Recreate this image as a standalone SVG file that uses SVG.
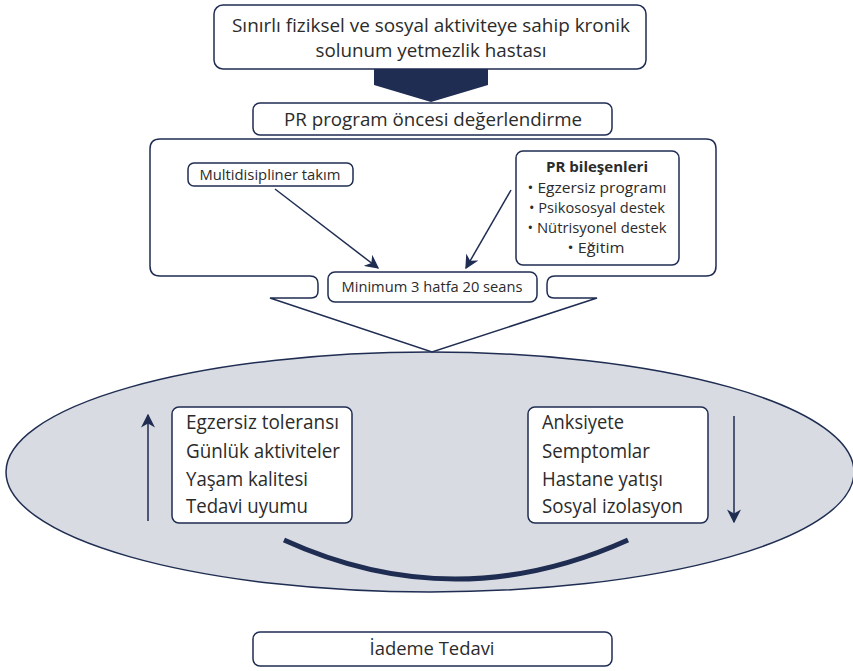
<svg xmlns="http://www.w3.org/2000/svg" width="853" height="671" viewBox="0 0 853 671">
<style>
.box{fill:#fff;stroke:#1f2d52;stroke-width:1.5}
.t{font-family:"Open Sans","Noto Sans",sans-serif;fill:#2b2b2b}
.ln{stroke:#1f2d52;stroke-width:1.5;fill:none}
</style>
<defs>
<marker id="ah2" viewBox="0 0 10 10" refX="9" refY="5" markerWidth="14" markerHeight="14" orient="auto" markerUnits="userSpaceOnUse">
<path d="M0,0 L10,5 L0,10 L3,5 Z" fill="#1f2d52"/>
</marker>
</defs>

<g id="ellipse">
<ellipse cx="430" cy="472" rx="424" ry="120" fill="#d9dbe3" stroke="#1f2d52" stroke-width="1.5"/>
</g>

<g id="top-box">
<rect class="box" x="214" y="5" width="432" height="64" rx="9"/>
<text class="t" x="431" y="32" font-size="18" text-anchor="middle" textLength="398" lengthAdjust="spacingAndGlyphs">Sınırlı fiziksel ve sosyal aktiviteye sahip kronik</text>
<text class="t" x="431" y="57" font-size="18" text-anchor="middle" textLength="231" lengthAdjust="spacingAndGlyphs">solunum yetmezlik hastası</text>
</g>

<g id="down-arrow">
<path d="M374,69 H488 V85 L431,102 L374,85 Z" fill="#1f2d52"/>
</g>

<g id="pr-box">
<rect class="box" x="253" y="103" width="359" height="32" rx="7"/>
<text class="t" x="433" y="126" font-size="18" text-anchor="middle" textLength="298" lengthAdjust="spacingAndGlyphs">PR program öncesi değerlendirme</text>
</g>

<g id="program-frame">
<path class="box" d="M160,139 H706 Q716,139 716,149 V266 Q716,276 706,276 H555 Q547,276 547,284 V291 Q547,298 554,298 H597 L432,352 L270,298 H311 Q318,298 318,291 V284 Q318,276 310,276 H160 Q150,276 150,266 V149 Q150,139 160,139 Z"/>
</g>

<g id="multidisipliner">
<rect class="box" x="188" y="163" width="165" height="23" rx="6"/>
<text class="t" x="270" y="180" font-size="14" text-anchor="middle" textLength="141" lengthAdjust="spacingAndGlyphs">Multidisipliner takım</text>
</g>

<g id="pr-bilesenleri">
<rect class="box" x="516" y="151" width="163" height="114" rx="7"/>
<text class="t" x="597" y="172" font-size="14.5" font-weight="bold" text-anchor="middle" textLength="102" lengthAdjust="spacingAndGlyphs">PR bileşenleri</text>
<text class="t" x="597" y="193" font-size="14" text-anchor="middle" textLength="139" lengthAdjust="spacingAndGlyphs">• Egzersiz programı</text>
<text class="t" x="597" y="213" font-size="14" text-anchor="middle" textLength="136" lengthAdjust="spacingAndGlyphs">• Psikososyal destek</text>
<text class="t" x="597" y="233" font-size="14" text-anchor="middle" textLength="139" lengthAdjust="spacingAndGlyphs">• Nütrisyonel destek</text>
<text class="t" x="596" y="253" font-size="14" text-anchor="middle" textLength="57" lengthAdjust="spacingAndGlyphs">• Eğitim</text>
</g>

<g id="minimum">
<rect class="box" x="328" y="272" width="209" height="30" rx="7"/>
<text class="t" x="432" y="292" font-size="15" text-anchor="middle" textLength="181" lengthAdjust="spacingAndGlyphs">Minimum 3 hatfa 20 seans</text>
</g>

<g id="connectors">
<line class="ln" x1="275" y1="189" x2="378" y2="268" marker-end="url(#ah2)"/>
<line class="ln" x1="511" y1="190" x2="466" y2="268" marker-end="url(#ah2)"/>
<line class="ln" x1="148" y1="521" x2="148" y2="415" marker-end="url(#ah2)"/>
<line class="ln" x1="734" y1="416" x2="734" y2="522" marker-end="url(#ah2)"/>
<path d="M284,540 Q455,618 628,540" fill="none" stroke="#1f2d52" stroke-width="5"/>
</g>

<g id="left-box">
<rect class="box" x="172" y="407" width="180" height="116" rx="7"/>
<text class="t" x="186" y="429" font-size="20" textLength="153" lengthAdjust="spacingAndGlyphs">Egzersiz toleransı</text>
<text class="t" x="186" y="458" font-size="20" textLength="154" lengthAdjust="spacingAndGlyphs">Günlük aktiviteler</text>
<text class="t" x="186" y="486" font-size="20" textLength="122" lengthAdjust="spacingAndGlyphs">Yaşam kalitesi</text>
<text class="t" x="186" y="513" font-size="20" textLength="122" lengthAdjust="spacingAndGlyphs">Tedavi uyumu</text>
</g>

<g id="right-box">
<rect class="box" x="528" y="407" width="180" height="116" rx="7"/>
<text class="t" x="542" y="429" font-size="20" textLength="82" lengthAdjust="spacingAndGlyphs">Anksiyete</text>
<text class="t" x="542" y="458" font-size="20" textLength="108" lengthAdjust="spacingAndGlyphs">Semptomlar</text>
<text class="t" x="542" y="486" font-size="20" textLength="121" lengthAdjust="spacingAndGlyphs">Hastane yatışı</text>
<text class="t" x="542" y="513" font-size="20" textLength="141" lengthAdjust="spacingAndGlyphs">Sosyal izolasyon</text>
</g>

<g id="iademe">
<rect class="box" x="253" y="632" width="359" height="34" rx="7"/>
<text class="t" x="432" y="655" font-size="18" text-anchor="middle" textLength="125" lengthAdjust="spacingAndGlyphs">İademe Tedavi</text>
</g>
</svg>
